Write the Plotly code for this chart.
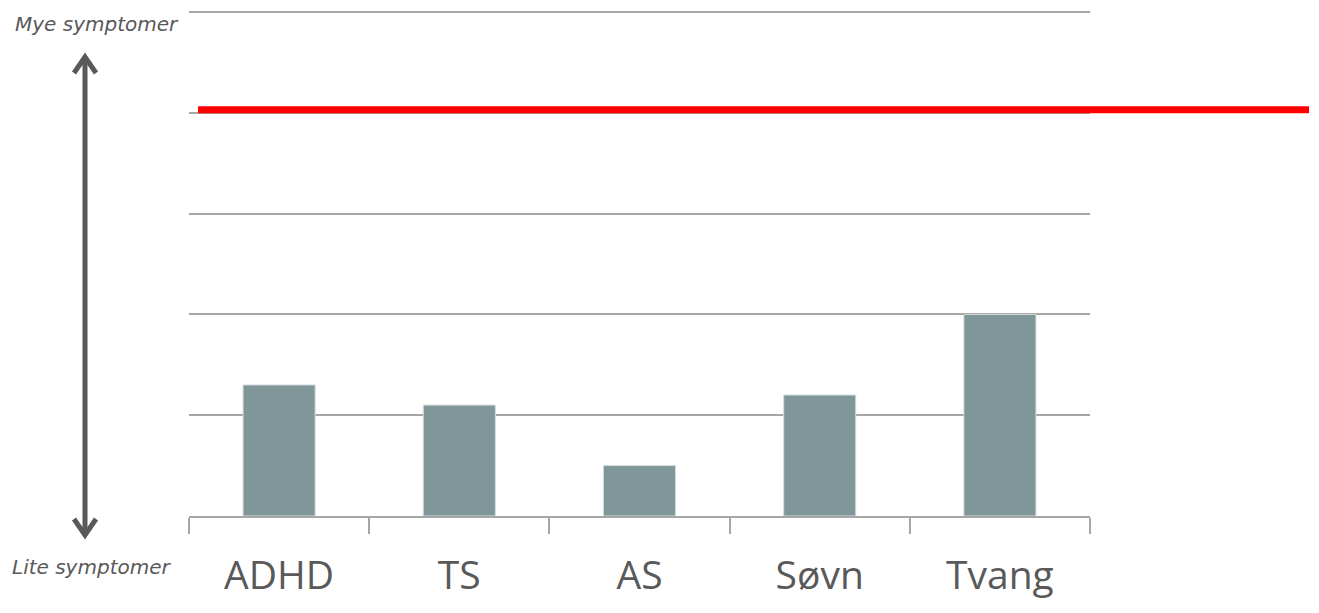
import plotly.graph_objects as go

categories = ["ADHD", "TS", "AS", "Søvn", "Tvang"]
values = [1.3, 1.1, 0.5, 1.2, 2.0]
threshold = 4.03
y_ticks = [0, 1, 2, 3, 4, 5]
top_label = "Mye symptomer"
bottom_label = "Lite symptomer"

# page body adds an 8px offset; figure coordinates are screen coords minus 8
OFF = 8
W, H = 1311, 605
L = 189 - OFF
R = W - (1090 - OFF)
B = H - (516 - OFF)
YMAX = 5.02
UNIT = 100.8
T = int(round((516 - OFF) - YMAX * UNIT))
PW, PH = W - L - R, H - T - B


def px(x):
    return (x - OFF - L) / PW


def py(y):
    return ((H - B) - (y - OFF)) / PH


grey = "#595959"
grid = "#a6a6a6"

fig = go.Figure()
fig.add_trace(go.Bar(
    x=categories, y=values, width=0.4,
    marker=dict(color="#7f9799", line=dict(color="#d5dcdc", width=1)),
    hoverinfo="x+y",
))

shapes = [
    dict(type="line", xref="paper", yref="y", x0=px(198), x1=px(1309),
         y0=threshold, y1=threshold, line=dict(color="#ff0000", width=7), layer="above"),
    dict(type="line", xref="paper", yref="paper", x0=px(85), x1=px(85),
         y0=py(57), y1=py(535), line=dict(color=grey, width=5)),
    dict(type="path", xref="paper", yref="paper",
         path=f"M {px(74)},{py(73)} L {px(85)},{py(57)} L {px(96)},{py(73)}",
         line=dict(color=grey, width=5)),
    dict(type="path", xref="paper", yref="paper",
         path=f"M {px(74)},{py(519)} L {px(85)},{py(535)} L {px(96)},{py(519)}",
         line=dict(color=grey, width=5)),
]

lab_font = dict(family="DejaVu Sans", size=20, color=grey, style="italic")
annotations = [
    dict(text=top_label, xref="paper", yref="paper", x=px(97), y=py(24),
         showarrow=False, font=lab_font, xanchor="center", yanchor="middle"),
    dict(text=bottom_label, xref="paper", yref="paper", x=px(92), y=py(567),
         showarrow=False, font=lab_font, xanchor="center", yanchor="middle"),
]

fig.update_layout(
    width=W, height=H, autosize=False,
    margin=dict(l=L, r=R, t=T, b=B, pad=0),
    paper_bgcolor="white", plot_bgcolor="white",
    showlegend=False,
    shapes=shapes, annotations=annotations,
    xaxis=dict(
        type="category", range=[-0.5, 4.5], tickson="boundaries",
        ticks="outside", ticklen=16, tickwidth=1.6, tickcolor=grid,
        showline=True, linecolor=grid, linewidth=2, showgrid=False,
        tickfont=dict(family="Open Sans", size=39, color=grey),
        ticklabelstandoff=24,
        fixedrange=True,
    ),
    yaxis=dict(
        range=[0, YMAX], tickvals=y_ticks, showticklabels=False,
        showgrid=True, gridcolor=grid, gridwidth=1.6, zeroline=False,
        showline=False, ticks="", fixedrange=True,
    ),
    font=dict(family="Open Sans", color=grey),
)

fig.write_html("out.html")
